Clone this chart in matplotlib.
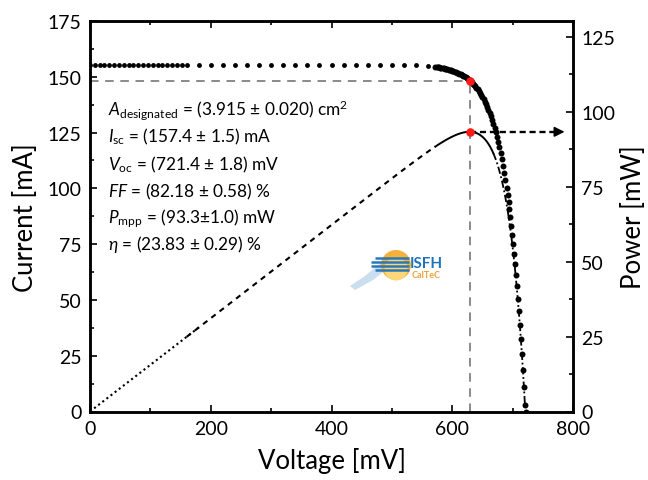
import numpy as np
import matplotlib
matplotlib.use("Agg")
import matplotlib.pyplot as plt
from matplotlib.patches import Circle, Polygon

plt.rcParams['font.family'] = ['Lato', 'DejaVu Sans']
plt.rcParams['mathtext.fontset'] = 'custom'
plt.rcParams['mathtext.rm'] = 'Lato'
plt.rcParams['mathtext.it'] = 'Lato:italic'
plt.rcParams['mathtext.bf'] = 'Lato:bold'

# ---------------- data ----------------
voltage_mV = [
    0, 8, 16, 24, 32, 40, 48, 56, 64, 72, 80, 88, 96, 104, 112, 120, 128, 136, 144, 152, 160,
    180, 200, 220, 240, 260, 280, 300, 320, 340, 360, 380, 400, 420, 440, 460, 480, 500, 520, 540, 560,
    572, 574, 576, 578, 580, 582, 584, 586, 588, 590, 592, 594, 596, 598, 600, 602, 604, 606, 608, 610,
    612, 614, 616, 618, 620, 622, 624, 626, 628, 630, 632, 634, 636, 638, 640, 642, 644, 646, 648, 650,
    652, 654, 656, 658, 660, 662, 664, 666, 668, 670, 672, 674, 676, 678, 680, 682, 684, 686, 688, 690,
    691.6, 693.2, 694.8, 696.4, 698.0, 699.6, 701.2, 702.8, 704.4, 706.0, 707.6, 709.2, 710.8, 712.4,
    714.0, 715.6, 717.2, 718.8, 720.4, 721.4,
]
current_mA = [
    155.5, 155.5, 155.5, 155.5, 155.5, 155.5, 155.5, 155.5, 155.5, 155.5, 155.5, 155.5, 155.5, 155.5,
    155.5, 155.5, 155.5, 155.5, 155.5, 155.5, 155.5,
    155.5, 155.5, 155.5, 155.5, 155.5, 155.5, 155.5, 155.5, 155.5, 155.5, 155.5, 155.5, 155.5, 155.48,
    155.47, 155.45, 155.40, 155.31, 155.13, 154.78,
    154.42, 154.34, 154.26, 154.18, 154.08, 153.99, 153.88, 153.77, 153.65, 153.53, 153.39, 153.24,
    153.09, 152.92, 152.74, 152.55, 152.35, 152.14, 151.90, 151.66, 151.39, 151.11, 150.80, 150.48,
    150.14, 149.77, 149.37, 148.95, 148.49, 148.01, 147.49, 146.94, 146.35, 145.72, 145.05, 144.33,
    143.56, 142.74, 141.85, 140.91, 139.91, 138.83, 137.69, 136.46, 135.14, 133.74, 132.24, 130.64,
    128.93, 127.09, 125.13, 123.06, 120.80, 118.40, 115.85, 113.12, 110.19, 107.08, 103.74, 100.15,
    97.14, 93.94, 90.57, 87.01, 83.26, 79.30, 75.13, 70.73, 66.08, 61.18, 56.02, 50.56, 44.82, 38.75,
    32.36, 25.62, 18.50, 10.99, 3.08, 0.0,
]
mpp_voltage_mV = 630
mpp_current_mA = 148.0
mpp_power_mW = 93.25

info_lines = [
    r'$A_{\mathrm{designated}}$ = (3.915 ± 0.020) cm$^{2}$',
    r'$I_{\mathrm{sc}}$ = (157.4 ± 1.5) mA',
    r'$V_{\mathrm{oc}}$ = (721.4 ± 1.8) mV',
    r'$FF$ = (82.18 ± 0.58) %',
    r'$P_{\mathrm{mpp}}$ = (93.3±1.0) mW',
    r'$\eta$ = (23.83 ± 0.29) %',
]

x_ticks = [0, 200, 400, 600, 800]
left_ticks = [0, 25, 50, 75, 100, 125, 150, 175]
right_ticks = [0, 25, 50, 75, 100, 125]

# ---------------- figure ----------------
V = np.array(voltage_mV, dtype=float)
I = np.array(current_mA, dtype=float)
P = V * I / 1000.0

fig = plt.figure(figsize=(6.48, 4.81), dpi=100)
ax = fig.add_axes([90/648, 1-412.5/481, (573-90)/648, (412.5-22)/481])
ax2 = ax.twinx()

ax.set_xlim(0, 800)
ax.set_ylim(0, 175)
ax2.set_ylim(0, 130.2)

# guide lines
gray = '#8a8a8a'
ax.plot([0, mpp_voltage_mV], [mpp_current_mA, mpp_current_mA], color=gray, lw=1.4,
        dashes=(4.4, 3.4), zorder=1)
ax.plot([mpp_voltage_mV, mpp_voltage_mV], [0, mpp_current_mA], color=gray, lw=1.4,
        dashes=(4.4, 3.4), zorder=1)

# I-V dots
sparse = V < 570
ax.plot(V[sparse], I[sparse], 'o', color='k', ms=3.5, mew=0, zorder=3)
ax.plot(V[~sparse], I[~sparse], 'o', color='k', ms=4.3, mew=0, zorder=3)
ax.plot([mpp_voltage_mV], [mpp_current_mA], 'o', color='#ff1a1a', ms=6.2, mew=0, zorder=4)

# power curve
m1 = V <= 180
m2 = (V >= 160) & (V <= 572)
m3 = (V >= 572) & (V <= 668)
m4 = V >= 668
ax2.plot(V[m1], P[m1], color='k', lw=1.5, linestyle=(0, (1, 1.5)))
ax2.plot(V[m2], P[m2], color='k', lw=1.5, linestyle=(0, (2.6, 2.4)))
ax2.plot(V[m3], P[m3], color='k', lw=1.4)
ax2.plot(V[m4], P[m4], color='k', lw=1.3, linestyle=(0, (4, 1.5, 1, 1.5)))
ax2.plot([mpp_voltage_mV], [mpp_power_mW], 'o', color='#ff1a1a', ms=6.2, mew=0, zorder=5)

# dashed arrow to the power axis
ax2.plot([mpp_voltage_mV, 770], [mpp_power_mW, mpp_power_mW], color='k', lw=1.7,
         dashes=(2.6, 1.6), zorder=4)
ax2.annotate('', xy=(786, mpp_power_mW), xytext=(766, mpp_power_mW),
             arrowprops=dict(arrowstyle='-|>', color='k', lw=1.2, mutation_scale=15,
                             shrinkA=0, shrinkB=0), zorder=5)

# ticks & labels
for a in (ax, ax2):
    for s in a.spines.values():
        s.set_linewidth(1.8)
ax.set_xticks(x_ticks)
ax.set_xticks(np.arange(100, 800, 200), minor=True)
ax.set_yticks(left_ticks)
ax.set_yticks(np.arange(12.5, 175, 25), minor=True)
ax2.set_yticks(right_ticks)
ax2.set_yticks(np.arange(12.5, 130, 25), minor=True)

ax.tick_params(axis='both', which='both', direction='in', labelsize=14, width=1.2)
ax.tick_params(axis='x', which='both', top=True)
ax.tick_params(axis='y', which='both', right=False)
ax.tick_params(which='major', length=5)
ax.tick_params(which='minor', length=3)
ax.tick_params(axis='x', pad=6)
ax.tick_params(axis='y', pad=6)
ax2.tick_params(axis='y', which='both', direction='in', labelsize=14, width=1.2, pad=6)
ax2.tick_params(which='major', length=5)
ax2.tick_params(which='minor', length=3)

ax.set_xlabel('Voltage [mV]', fontsize=18.5, labelpad=7)
ax.set_ylabel('Current [mA]', fontsize=18.5, labelpad=7)
ax2.set_ylabel('Power [mW]', fontsize=18.5, labelpad=4)

# info text
baselines_px = [115, 142.7, 170, 197.7, 223.3, 250]
for txt, ypx in zip(info_lines, baselines_px):
    ax.text(18/483, (412.5-ypx)/390.5, txt, transform=ax.transAxes, fontsize=12.4,
            va='baseline', ha='left', zorder=6)

# logo
lax = fig.add_axes([345/648, 1-295/481, 100/648, 50/481])
lax.set_xlim(0, 100)
lax.set_ylim(0, 50)
lax.axis('off')
lax.add_patch(Polygon([(5, 8), (20, 18), (38, 33), (50, 38), (46, 28), (28, 14), (10, 4)],
                      closed=True, color='#a9c8e6', alpha=0.6, lw=0))
lax.add_patch(Circle((51, 29), 15, color='#f6b13a', lw=0))
lax.add_patch(Circle((51, 25), 11.5, color='#fbd77a', lw=0))
for yy, x0 in zip([36, 32, 28, 24], [30, 26, 26, 30]):
    lax.plot([x0, 64], [yy, yy], color='#2a78b8', lw=1.8, solid_capstyle='butt')
lax.text(65, 31, 'ISFH', fontsize=11, fontweight='bold', color='#1e73b8', va='center', ha='left')
lax.text(67, 19, 'CalTeC', fontsize=6.5, fontweight='bold', color='#e9a23b', va='center', ha='left')

fig.savefig('out.png', dpi=100)
